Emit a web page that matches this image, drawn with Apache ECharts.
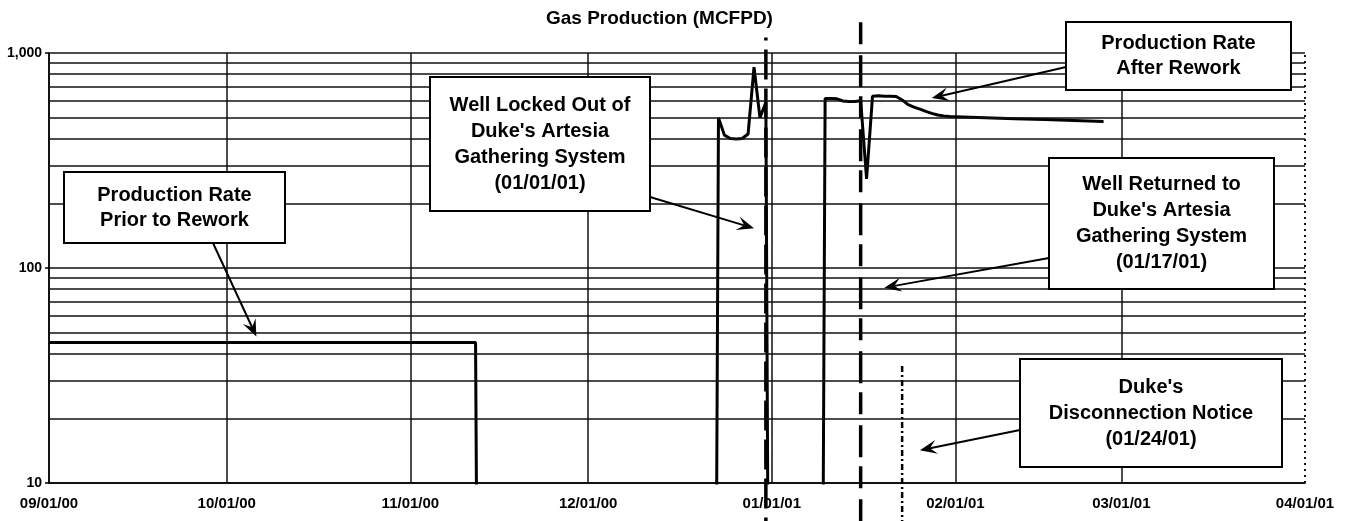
<!DOCTYPE html>
<html>
<head>
<meta charset="utf-8">
<title>Gas Production (MCFPD)</title>
<script src="https://cdn.jsdelivr.net/npm/echarts@6/dist/echarts.min.js"></script>
<style>
html, body { margin: 0; padding: 0; background: #fff; }
#main { width: 1345px; height: 521px; }
</style>
</head>
<body>
<div id="main"></div>
<script>
// daily gas rate, 0 = well shut in / off line
var prodDates = [
    '2000-09-01', '2000-11-12', '2000-11-13', '2000-12-22', '2000-12-23', '2000-12-24',
    '2000-12-25', '2000-12-26', '2000-12-27', '2000-12-28', '2000-12-29', '2000-12-30',
    '2000-12-31', '2001-01-01', '2001-01-09', '2001-01-10', '2001-01-11', '2001-01-12',
    '2001-01-13', '2001-01-14', '2001-01-15', '2001-01-16', '2001-01-17', '2001-01-18',
    '2001-01-19', '2001-01-20', '2001-01-21', '2001-01-22', '2001-01-23', '2001-01-24',
    '2001-01-25', '2001-01-26', '2001-01-27', '2001-01-28', '2001-01-29', '2001-01-30',
    '2001-01-31', '2001-02-01', '2001-02-06', '2001-02-11', '2001-02-16', '2001-02-21',
    '2001-02-26'
];
var prodRates = [
    45, 45, 0, 0, 500, 415,
    400, 398, 400, 420, 860, 500,
    590, 0, 0, 615, 615, 612,
    598, 595, 595, 600, 260, 630,
    632, 630, 630, 628, 605, 575,
    560, 548, 535, 524, 515, 510,
    506, 505, 500, 495, 490, 485,
    480
];

var monthTicks = ['2000-09-01', '2000-10-01', '2000-11-01', '2000-12-01',
    '2001-01-01', '2001-02-01', '2001-03-01', '2001-04-01'];
var minorGrid = [20, 30, 40, 50, 60, 70, 80, 90, 200, 300, 400, 500, 600, 700, 800, 900];

// vertical event lines (locked out, returned, disconnection notice)
var eventDates = ['2000-12-31', '2001-01-16', '2001-01-23'];

var noteTexts = [
    'Production Rate\nPrior to Rework',
    'Well Locked Out of\nDuke\'s Artesia\nGathering System\n(01/01/01)',
    'Production Rate\nAfter Rework',
    'Well Returned to\nDuke\'s Artesia\nGathering System\n(01/17/01)',
    'Duke\'s\nDisconnection Notice\n(01/24/01)'
];
var noteDates = ['2000-10-06', '2000-12-29', '2001-01-28', '2001-01-20', '2001-01-26'];
var noteValues = [48, 153, 617, 81, 14.2];

var gasChart = {
    domId: 'main',
    font: '"Liberation Sans", Arial, Helvetica, sans-serif',
    logFloor: 0.001,
    // box layout in px: x, y, w, h, arrow start
    noteBoxes: [
        {x: 64, y: 172, w: 221, h: 71, lh: 25, sx: 213, sy: 243},
        {x: 430, y: 77, w: 220, h: 134, lh: 26, sx: 650, sy: 197},
        {x: 1066, y: 22, w: 225, h: 68, lh: 25, sx: 1066, sy: 67},
        {x: 1049, y: 158, w: 225, h: 131, lh: 26, sx: 1049, sy: 258},
        {x: 1020, y: 359, w: 262, h: 108, lh: 26, sx: 1020, sy: 430}
    ],
    eventStyles: [
        {top: 1180, bottom: 6, width: 3.5, type: [30, 9], offset: 27},
        {top: 1390, bottom: 6, width: 3.5, type: [22, 11, 32, 9], offset: 0},
        {top: 35, bottom: 6, width: 2.5, type: [6, 3, 2, 3], offset: 0}
    ]
};

gasChart.toTime = function (s) {
    var p = s.split('-');
    return new Date(+p[0], +p[1] - 1, +p[2]).getTime();
};

gasChart.fmtDate = function (v) {
    var d = new Date(v);
    var pad = function (n) { return (n < 10 ? '0' : '') + n; };
    return pad(d.getMonth() + 1) + '/' + pad(d.getDate()) + '/' + pad(d.getFullYear() % 100);
};

gasChart.series = function () {
    var lineData = prodDates.map(function (d, i) {
        return [gasChart.toTime(d), prodRates[i] > 0 ? prodRates[i] : gasChart.logFloor];
    });
    var list = [{
        name: 'Gas Production',
        type: 'line',
        data: lineData,
        symbol: 'none',
        clip: true,
        z: 3,
        lineStyle: {color: '#000', width: 3},
        markLine: {
            silent: true,
            symbol: 'none',
            label: {show: false},
            animation: false,
            data: minorGrid.map(function (v) {
                return {yAxis: v, lineStyle: {color: '#111', width: 1.5, type: 'solid'}};
            }).concat([{
                xAxis: gasChart.toTime(monthTicks[monthTicks.length - 1]),
                lineStyle: {color: '#111', width: 2, type: [2, 4]}
            }])
        }
    }];
    eventDates.forEach(function (d, i) {
        var st = gasChart.eventStyles[i];
        var t = gasChart.toTime(d);
        list.push({
            type: 'line',
            data: [[t, st.top], [t, st.bottom]],
            symbol: 'none',
            clip: false,
            silent: true,
            z: 4,
            lineStyle: {color: '#000', width: st.width, type: st.type, dashOffset: st.offset}
        });
    });
    return list;
};

gasChart.notes = function (chart) {
    var els = [];
    gasChart.noteBoxes.forEach(function (b, i) {
        els.push({
            type: 'rect', z: 100,
            shape: {x: b.x, y: b.y, width: b.w, height: b.h},
            style: {fill: '#fff', stroke: '#000', lineWidth: 2}
        });
        els.push({
            type: 'text', z: 101,
            style: {
                text: noteTexts[i], x: b.x + b.w / 2, y: b.y + b.h / 2,
                align: 'center', verticalAlign: 'middle',
                fontSize: 20, fontWeight: 'bold', fontFamily: gasChart.font,
                lineHeight: b.lh, fill: '#000'
            }
        });
        var tip = chart.convertToPixel({gridIndex: 0}, [gasChart.toTime(noteDates[i]), noteValues[i]]);
        var dx = tip[0] - b.sx, dy = tip[1] - b.sy;
        var len = Math.sqrt(dx * dx + dy * dy);
        var ux = dx / len, uy = dy / len, nx = -uy, ny = ux;
        var L = 17, W = 7;
        var bx = tip[0] - ux * L, by = tip[1] - uy * L;
        var kx = tip[0] - ux * L * 0.6, ky = tip[1] - uy * L * 0.6;
        els.push({
            type: 'line', z: 100,
            shape: {x1: b.sx, y1: b.sy, x2: kx, y2: ky},
            style: {stroke: '#000', lineWidth: 2}
        });
        els.push({
            type: 'polygon', z: 100,
            shape: {points: [[tip[0], tip[1]], [bx + nx * W, by + ny * W], [kx, ky], [bx - nx * W, by - ny * W]]},
            style: {fill: '#000'}
        });
    });
    chart.setOption({graphic: els});
};

gasChart.init = function () {
    var chart = echarts.init(document.getElementById(gasChart.domId));
    var tickTimes = monthTicks.map(gasChart.toTime);
    chart.setOption({
        animation: false,
        backgroundColor: '#fff',
        title: {
            text: 'Gas Production (MCFPD)',
            left: 541,
            top: 4,
            textStyle: {fontSize: 19, fontWeight: 'bold', color: '#000', fontFamily: gasChart.font}
        },
        grid: {left: 49, right: 40, top: 53, bottom: 38},
        xAxis: {
            type: 'value',
            min: tickTimes[0],
            max: tickTimes[tickTimes.length - 1],
            axisLine: {show: true, onZero: false, lineStyle: {color: '#000', width: 1.5}},
            axisTick: {show: false, customValues: tickTimes},
            axisLabel: {
                customValues: tickTimes,
                formatter: gasChart.fmtDate,
                margin: 13,
                fontSize: 15,
                fontWeight: 'bold',
                color: '#000',
                fontFamily: gasChart.font
            },
            splitLine: {show: true, showMaxLine: false, lineStyle: {color: '#111', width: 1.5}}
        },
        yAxis: {
            type: 'log',
            logBase: 10,
            min: 10,
            max: 1000,
            axisLine: {show: true, lineStyle: {color: '#000', width: 1.5}},
            axisTick: {show: true, length: 4, lineStyle: {color: '#000', width: 1.5}},
            axisLabel: {
                margin: 7,
                fontSize: 14,
                fontWeight: 'bold',
                color: '#000',
                fontFamily: gasChart.font,
                formatter: function (v) { return echarts.format.addCommas(Math.round(v)); }
            },
            splitLine: {show: true, lineStyle: {color: '#111', width: 1.5}}
        },
        series: gasChart.series()
    });
    gasChart.notes(chart);
    return chart;
};

gasChart.init();
</script>
</body>
</html>
